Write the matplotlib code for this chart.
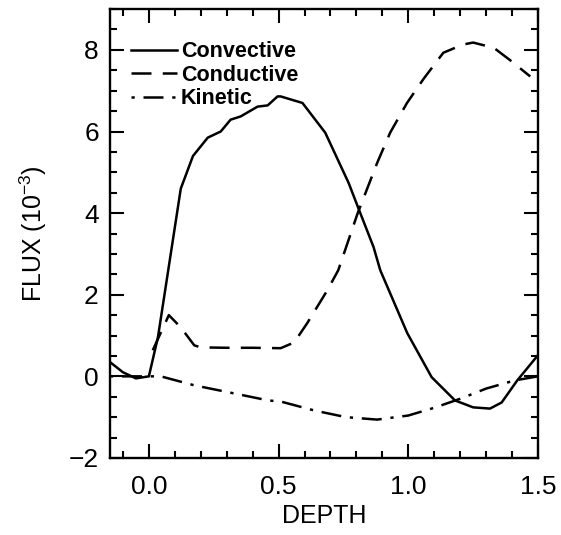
import matplotlib.pyplot as plt
from matplotlib.ticker import MultipleLocator

plt.rcParams['font.family'] = ['Liberation Sans', 'DejaVu Sans']
plt.rcParams['mathtext.fontset'] = 'custom'
plt.rcParams['mathtext.rm'] = 'Liberation Sans'
plt.rcParams['mathtext.it'] = 'Liberation Sans'

# convective flux (solid)
conv_x = [-0.15, -0.10, -0.05, 0.0, 0.035, 0.123, 0.17, 0.227, 0.277, 0.315, 0.354,
          0.419, 0.458, 0.496, 0.508, 0.592, 0.68, 0.77, 0.815, 0.866, 0.892, 0.996,
          1.09, 1.18, 1.25, 1.315, 1.36, 1.42, 1.5]
conv_y = [0.35, 0.1, -0.05, 0.0, 0.96, 4.6, 5.4, 5.85, 6.0, 6.29, 6.37,
          6.61, 6.64, 6.86, 6.86, 6.7, 5.97, 4.74, 4.0, 3.17, 2.6, 1.06,
          -0.02, -0.59, -0.76, -0.79, -0.64, -0.1, 0.52]

# conductive flux (dashed)
cond_x = [0.015, 0.077, 0.123, 0.175, 0.2, 0.3, 0.4, 0.508, 0.56, 0.61, 0.688,
          0.73, 0.805, 0.88, 0.93, 0.995, 1.06, 1.135, 1.21, 1.25, 1.33, 1.39, 1.47]
cond_y = [0.64, 1.5, 1.2, 0.76, 0.71, 0.7, 0.7, 0.69, 0.83, 1.3, 2.11,
          2.6, 4.0, 5.23, 5.97, 6.7, 7.3, 7.93, 8.13, 8.18, 8.05, 7.76, 7.35]

# kinetic flux (dash-dot)
kin_x = [-0.15, 0.0, 0.046, 0.175, 0.33, 0.46, 0.51, 0.64, 0.76, 0.88, 1.0,
         1.1, 1.2, 1.3, 1.41, 1.5]
kin_y = [0.0, 0.0, 0.0, -0.22, -0.42, -0.59, -0.62, -0.84, -1.0, -1.06, -0.96,
         -0.77, -0.55, -0.3, -0.1, 0.0]

xticks = [0.0, 0.5, 1.0, 1.5]
yticks = [-2, 0, 2, 4, 6, 8]

fig = plt.figure(figsize=(5.61, 5.35), dpi=100)
ax = fig.add_axes([0.196, 0.144, 0.763, 0.839])

ax.plot(conv_x, conv_y, color='black', lw=1.8, label='Convective')
ax.plot(cond_x, cond_y, color='black', lw=1.8, dashes=(8, 4.5), label='Conductive')
ax.plot(kin_x, kin_y, color='black', lw=1.8, dashes=(1.3, 3.5, 8, 3.5), label='Kinetic')

ax.set_xlim(-0.15, 1.5)
ax.set_ylim(-2, 9)
ax.xaxis.set_minor_locator(MultipleLocator(0.1))
ax.yaxis.set_minor_locator(MultipleLocator(0.5))
ax.set_xticks(xticks)
ax.set_xticklabels(['%.1f' % v for v in xticks])
ax.set_yticks(yticks)
ax.set_yticklabels([str(v).replace('-', '\u2212') for v in yticks])
ax.tick_params(which='both', direction='in', top=True, right=True, width=1.5,
               labelsize=19)
ax.tick_params(axis='x', pad=12)
ax.tick_params(axis='y', pad=8)
ax.tick_params(which='major', length=10)
ax.tick_params(which='minor', length=5)
for s in ax.spines.values():
    s.set_linewidth(1.7)

ax.set_xlabel('DEPTH', fontsize=18, labelpad=4)
ax.set_ylabel('FLUX (10$^{-3}$)', fontsize=18, labelpad=14)

leg = ax.legend(loc='upper left', frameon=False, fontsize=15.5, handlelength=2.1,
                handletextpad=0.2, labelspacing=0.12, borderaxespad=0.0,
                bbox_to_anchor=(0.03, 0.948))
for t in leg.get_texts():
    t.set_fontweight('bold')

plt.savefig('out.png', dpi=100)
